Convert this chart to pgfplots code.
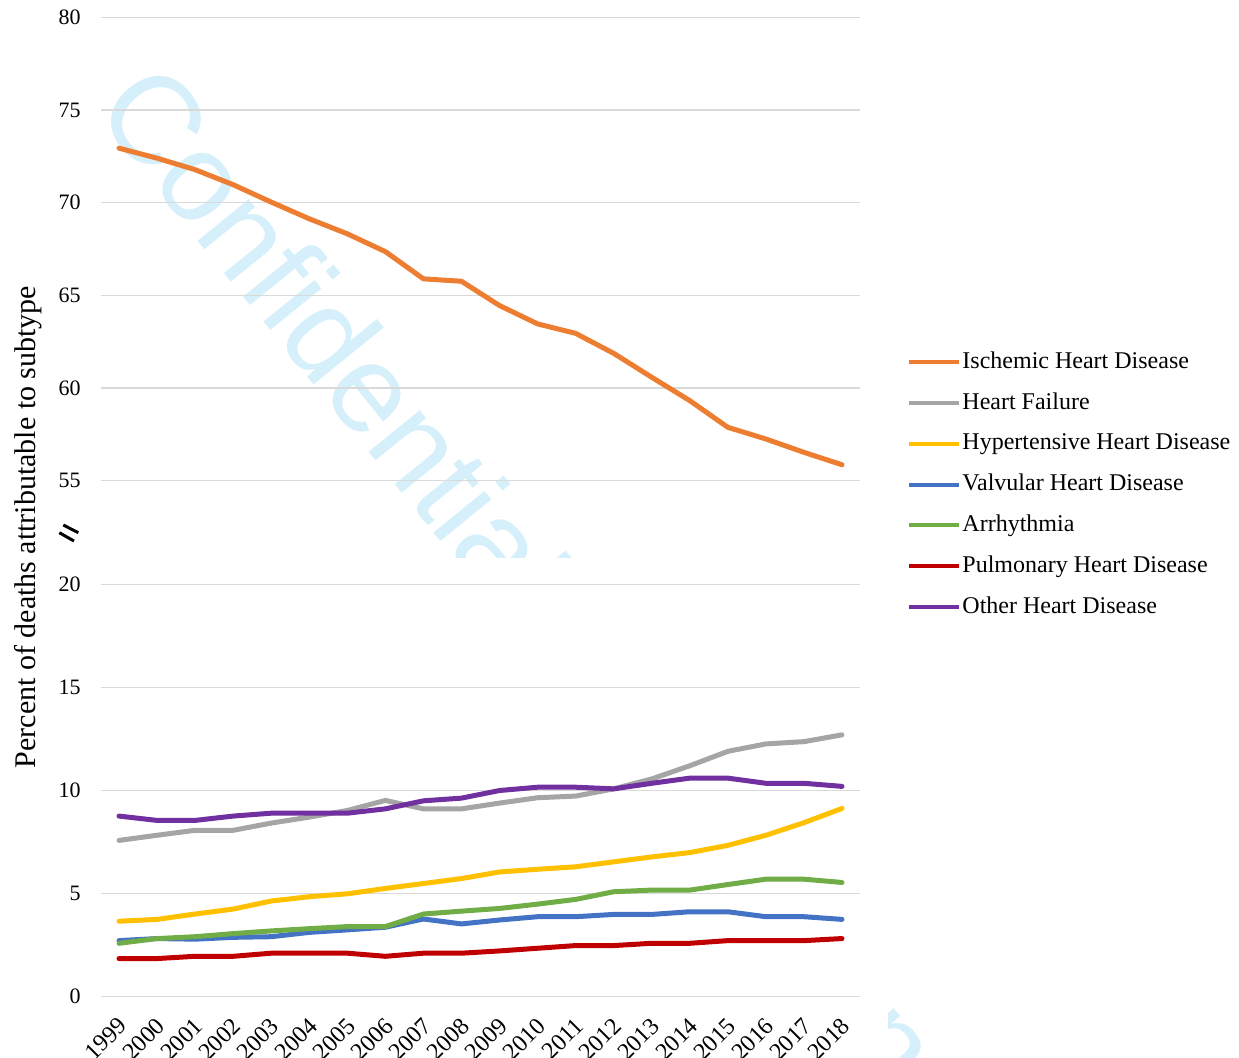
\documentclass[border=0pt]{standalone}
\usepackage{pgfplots}
\pgfplotsset{compat=1.18}
\usepackage{pgfplotstable}
\usepackage{fontspec}
\setmainfont{Liberation Serif}
\newfontfamily\wmfont{Liberation Sans}

\definecolor{ihd}{HTML}{ED7D31}
\definecolor{hf}{HTML}{A5A5A5}
\definecolor{hhd}{HTML}{FFC000}
\definecolor{vhd}{HTML}{4472C4}
\definecolor{arr}{HTML}{70AD47}
\definecolor{phd}{HTML}{C00000}
\definecolor{oth}{HTML}{7030A0}
\definecolor{gridgray}{HTML}{D9D9D9}
\definecolor{wmblue}{RGB}{214,240,251}

% Percent of cardiac deaths by subtype, 1999-2018
\pgfplotstableread{
year  ihd    hf     hhd   vhd   arr   phd   oth
1999  72.94  7.58   3.66  2.72  2.59  1.85  8.76
2000  72.40  7.83   3.75  2.82  2.82  1.85  8.55
2001  71.78  8.07   4.01  2.79  2.91  1.96  8.55
2002  70.97  8.07   4.25  2.88  3.06  1.96  8.76
2003  70.03  8.42   4.64  2.91  3.19  2.11  8.90
2004  69.13  8.71   4.85  3.12  3.30  2.11  8.90
2005  68.32  9.03   4.99  3.24  3.40  2.11  8.90
2006  67.36  9.52   5.25  3.37  3.40  1.96  9.11
2007  65.89  9.11   5.49  3.77  4.01  2.11  9.50
2008  65.76  9.11   5.73  3.53  4.15  2.11  9.63
2009  64.45  9.39   6.05  3.72  4.28  2.22  10.00
2010  63.46  9.65   6.18  3.88  4.49  2.35  10.16
2011  62.95  9.73   6.30  3.88  4.72  2.48  10.16
2012  61.87  10.08  6.54  3.99  5.09  2.48  10.08
2013  60.58  10.56  6.78  3.99  5.17  2.59  10.35
2014  59.32  11.20  6.99  4.12  5.17  2.59  10.60
2015  57.88  11.90  7.34  4.12  5.44  2.72  10.60
2016  57.25  12.26  7.83  3.88  5.70  2.72  10.35
2017  56.53  12.37  8.44  3.88  5.70  2.72  10.35
2018  55.86  12.70  9.13  3.75  5.54  2.82  10.20
}\deaths

\pgfplotsset{
  panel/.style={
    scale only axis,
    width=379.5pt,
    xmin=1998.527, xmax=2018.473,
    axis line style={draw=none},
    major tick length=0pt,
    ymajorgrids,
    major grid style={gridgray, line width=0.75pt},
    yticklabel style={font=\fontsize{11}{13}\selectfont, anchor=east, inner sep=0pt, xshift=-10pt},
    /pgf/number format/assume math mode=true,
    /pgf/number format/1000 sep={},
    every axis plot/.append style={line width=2.5pt, line join=round, line cap=round},
  },
}

\begin{document}
\begin{tikzpicture}[x=1pt,y=1pt]
\useasboundingbox (0,0) rectangle (619.5,-528.5);

% watermark behind the upper panel
\begin{scope}
  \clip (0,0) rectangle (619.5,-278.5);
  \node[rotate=-51, anchor=base west, inner sep=0pt, text=wmblue,
        font=\wmfont\fontsize{62.5}{62.5}\selectfont] at (46,-55) {Confidential};
\end{scope}
\begin{scope}
  \clip (444,-500) rectangle (465,-528.5);
  \node[rotate=-51, anchor=base west, inner sep=0pt, text=wmblue,
        font=\wmfont\fontsize{62.5}{62.5}\selectfont] at (368.5,-459.5) {Confidential};
\end{scope}

% upper panel: 55-80
\begin{axis}[panel, at={(50.5pt,-8.65pt)}, anchor=north west,
  height=231.7pt, ymin=55, ymax=80, ytick={55,60,...,80}, xtick=\empty]
  \addplot[ihd] table[x=year, y=ihd] {\deaths};
\end{axis}

% lower panel: 0-20
\begin{axis}[panel, at={(50.5pt,-292.15pt)}, anchor=north west,
  height=206.2pt, ymin=0, ymax=20, ytick={0,5,...,20},
  xtick={1999,...,2018},
  xticklabel style={font=\fontsize{12}{14}\selectfont, inner sep=0pt,
                    xshift=-1pt, yshift=-9.5pt, rotate=45, anchor=north east},
  legend cell align=left,
  legend image code/.code={\draw[#1, line width=2pt, line cap=butt] (0pt,0pt) -- (25pt,0pt);},
  legend style={at={(1.062,1.566)}, anchor=north west, draw=none, fill=none,
                inner sep=0pt, font=\fontsize{12}{14}\selectfont, row sep=9.4pt,
                nodes={inner sep=0pt, text height=8.5pt, text depth=2.5pt},
                /tikz/every odd column/.append style={column sep=0.5pt}},
]
  \addlegendimage{ihd, line width=2.5pt}
  \addlegendentry{Ischemic Heart Disease}
  \addplot[hf]  table[x=year, y=hf]  {\deaths}; \addlegendentry{Heart Failure}
  \addplot[hhd] table[x=year, y=hhd] {\deaths}; \addlegendentry{Hypertensive Heart Disease}
  \addplot[vhd] table[x=year, y=vhd] {\deaths}; \addlegendentry{Valvular Heart Disease}
  \addplot[arr] table[x=year, y=arr] {\deaths}; \addlegendentry{Arrhythmia}
  \addplot[phd] table[x=year, y=phd] {\deaths}; \addlegendentry{Pulmonary Heart Disease}
  \addplot[oth] table[x=year, y=oth] {\deaths}; \addlegendentry{Other Heart Disease}
\end{axis}

% axis title and break mark
\node[rotate=90, font=\fontsize{15}{18}\selectfont] at (14,-263.5)
  {Percent of deaths attributable to subtype};
\draw[line width=1.5pt] (31.65,-262.5) -- (39.15,-266.35);
\draw[line width=1.5pt] (29.65,-266.35) -- (37,-270.5);
\end{tikzpicture}
\end{document}
